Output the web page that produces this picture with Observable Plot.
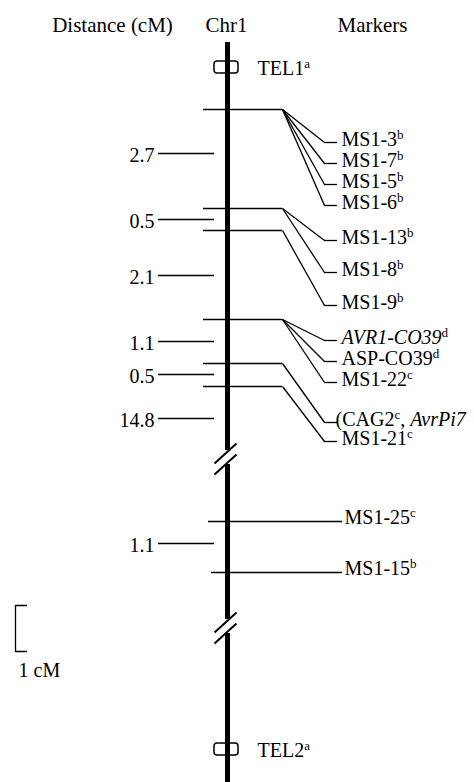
<!DOCTYPE html>
<html><head><meta charset="utf-8">
<script src="https://cdn.jsdelivr.net/npm/d3@7"></script>
<script src="https://cdn.jsdelivr.net/npm/@observablehq/plot@0.6"></script>
<style>html,body{margin:0;padding:0;background:#fff} svg{display:block} svg text{font-family:"Liberation Serif","Times New Roman",serif !important;}</style>
</head><body><div id="chart"></div>
<script>
// ---- data (map positions) ----
const headers = ["Distance (cM)", "Chr1", "Markers"];
const headerX = [112, 226, 372];
const telomeres = ["TEL1{a}", "TEL2{a}"];
const telomerePos = [67, 749];
const locusPos = [109, 208, 230, 319, 363, 386];
const markerNames = ["MS1-3{b}", "MS1-7{b}", "MS1-5{b}", "MS1-6{b}", "MS1-13{b}", "MS1-8{b}", "MS1-9{b}",
  "*AVR1-CO39*{d}", "ASP-CO39{d}", "MS1-22{c}", "(CAG2{c}, *AvrPi7*", "MS1-21{c}"];
const markerLocus = [0, 0, 0, 0, 1, 1, 2, 3, 3, 3, 4, 5];
const markerPos = [142, 163, 184, 205, 240, 272, 305, 340, 361, 382, 422, 441];
const directMarkers = ["MS1-25{c}", "MS1-15{b}"];
const directPos = [521, 572];
const distances = ["2.7", "0.5", "2.1", "1.1", "0.5", "14.8", "1.1"];
const distancePos = [153, 219, 275, 341, 374, 418, 543];
const breakPos = [457, 626];
const scaleLabel = "1 cM";
const scaleRange = [605, 651];

// ---- layout ----
const W = 474, H = 782;
const chromX = 227, chromTop = 42, chromBottom = 782, gap = 7;
const junctionX = 282, diagEndX = 324, stubEndX = 337, labelX = 341;
const FONT = "Liberation Serif";

const markers = markerNames.map((name, i) => ({name, locus: locusPos[markerLocus[i]], pos: markerPos[i]}));
const direct = directMarkers.map((name, i) => ({name, pos: directPos[i]}));
const dist = distances.map((label, i) => ({label, pos: distancePos[i]}));
const tels = telomeres.map((name, i) => ({name, pos: telomerePos[i]}));
const bounds = [chromTop, ...breakPos.flatMap(b => [b - gap, b + gap]), chromBottom];
const segs = d3.range(0, bounds.length, 2).map(i => ({y1: bounds[i], y2: bounds[i + 1]}));
const slashes = breakPos.flatMap(b => [
  {x1: chromX - 13, y1: b + 6, x2: chromX + 9, y2: b - 14},
  {x1: chromX - 13, y1: b + 17, x2: chromX + 9, y2: b - 3}
]);
const scalePts = [[26, scaleRange[0]], [15, scaleRange[0]], [15, scaleRange[1]], [26, scaleRange[1]]];

const thin = 1.3;
const txt = {fontFamily: FONT, fontSize: 20, fill: "#000"};
const plot = Plot.plot({
  width: W, height: H,
  margin: 0,
  x: {domain: [0, W], range: [0, W], axis: null},
  y: {domain: [0, H], range: [0, H], axis: null},
  style: {fontFamily: FONT, fontSize: "20px", color: "#000", background: "#fff"},
  marks: [
    // headers
    Plot.text(headers, {x: (d, i) => headerX[i], y: 25, text: d => d, ...txt, fontSize: 21}),
    // chromosome
    Plot.ruleX(segs, {x: chromX, y1: "y1", y2: "y2", strokeWidth: 5, stroke: "#000"}),
    // breaks
    Plot.link(slashes, {x1: "x1", y1: "y1", x2: "x2", y2: "y2", stroke: "#000", strokeWidth: 2}),
    // telomeres
    Plot.rect(tels, {x1: chromX - 13, x2: chromX + 11, y1: d => d.pos - 6, y2: d => d.pos + 6, fill: "none", stroke: "#000", strokeWidth: 1.5, rx: 3}),
    Plot.text(tels, {x: 257, y: "pos", text: "name", textAnchor: "start", dy: 1, ...txt}),
    // loci lines
    Plot.ruleY(locusPos, {y: d => d, x1: 203, x2: junctionX, stroke: "#000", strokeWidth: thin}),
    Plot.link(markers, {x1: junctionX, y1: "locus", x2: diagEndX, y2: "pos", stroke: "#000", strokeWidth: thin}),
    Plot.ruleY(markers, {y: "pos", x1: diagEndX, x2: stubEndX, stroke: "#000", strokeWidth: thin}),
    Plot.text(markers, {x: d => labelX - (d.name.startsWith("(") ? 6 : 0), y: "pos", text: "name", textAnchor: "start", dy: -3, ...txt}),
    // direct markers
    Plot.ruleY(direct, {y: "pos", x1: (d, i) => 208 + 3 * i, x2: 342, stroke: "#000", strokeWidth: thin}),
    Plot.text(direct, {x: 344, y: "pos", text: "name", textAnchor: "start", dy: -4, ...txt}),
    // distances
    Plot.ruleY(dist, {y: "pos", x1: 158, x2: 214, stroke: "#000", strokeWidth: thin}),
    Plot.text(dist, {x: 154, y: "pos", text: "label", textAnchor: "end", dy: 2, ...txt}),
    // scale bar
    Plot.line(scalePts, {x: d => d[0], y: d => d[1], stroke: "#000", strokeWidth: 1.3, curve: "linear"}),
    Plot.text([scaleLabel], {x: 18, y: 670, text: d => d, textAnchor: "start", ...txt})
  ]
});

// rich text: {x} superscript, *x* italic
d3.select(plot).selectAll("text").each(function () {
  const s = this.textContent;
  if (!/[{*]/.test(s)) return;
  const parts = s.split(/(\{[^}]*\}|\*[^*]*\*)/).filter(p => p);
  this.textContent = "";
  let raised = false;
  for (const p of parts) {
    const t = d3.select(this).append("tspan");
    if (p[0] === "{") {
      t.text(p.slice(1, -1)).attr("font-size", 13).attr("dy", -7);
      raised = true;
    } else {
      if (raised) { t.attr("dy", 7); raised = false; }
      if (p[0] === "*") t.text(p.slice(1, -1)).attr("font-style", "italic");
      else t.text(p);
    }
  }
});
d3.select(plot).style("font-family", "'Liberation Serif', serif");
document.getElementById("chart").appendChild(plot);
</script>
</body></html>
